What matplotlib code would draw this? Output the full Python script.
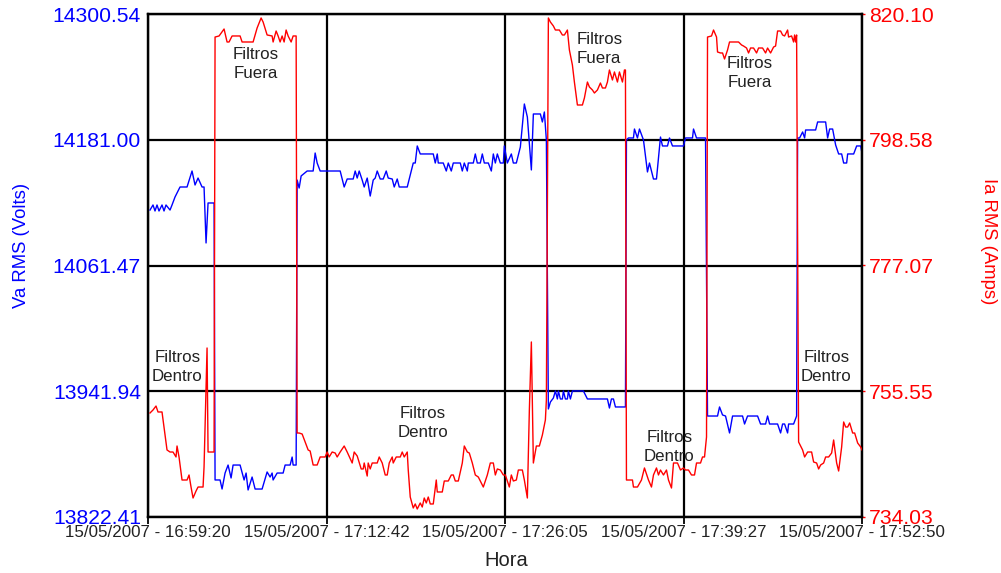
import datetime as dt
import numpy as np
import matplotlib
matplotlib.use("Agg")
import matplotlib.pyplot as plt

plt.rcParams['font.family'] = ['Liberation Sans', 'DejaVu Sans']

# ---------------- data ----------------
start_time = dt.datetime(2007, 5, 15, 16, 59, 20)
end_time = dt.datetime(2007, 5, 15, 17, 52, 50)

# Va RMS (Volts): seconds after start, value
va_t = [9, 22.5, 31.5, 40.5, 49.5, 63, 72, 81, 99, 108, 121.5, 144, 175.5, 198, 211.5, 225, 243, 252, 261, 270,
        288, 297, 301.5, 324, 333, 346.5, 360, 373.5, 382.5, 414, 432, 441, 450, 468, 481.5, 513, 535.5, 549, 558,
        562.5, 580.5, 607.5, 616.5, 639, 648, 652.5, 666, 670.5, 679.5, 688.5, 715.5, 742.5, 751.5, 760.5, 774,
        864, 882, 895.5, 922.5, 931.5, 940.5, 949.5, 963, 972, 985.5, 999, 1012.5, 1021.5, 1030.5, 1044, 1057.5,
        1071, 1080, 1098, 1107, 1120.5, 1129.5, 1165.5, 1192.5, 1201.5, 1210.5, 1224, 1282.5, 1291.5, 1300.5, 1305,
        1327.5, 1341, 1350, 1363.5, 1372.5, 1404, 1413, 1422, 1435.5, 1440, 1462.5, 1471.5, 1480.5, 1494, 1503,
        1512, 1530, 1543.5, 1552.5, 1561.5, 1570.5, 1584, 1597.5, 1602, 1615.5, 1633.5, 1642.5, 1656, 1674, 1692,
        1705.5, 1723.5, 1732.5, 1764, 1773, 1782, 1791, 1800, 1809, 1822.5, 1831.5, 1840.5, 1845, 1854, 1863,
        1867.5, 1876.5, 1885.5, 1890, 1899, 1908, 1957.5, 1975.5, 2065.5, 2074.5, 2083.5, 2092.5, 2101.5, 2146.5,
        2151, 2160, 2182.5, 2187, 2200.5, 2209.5, 2227.5, 2245.5, 2254.5, 2272.5, 2286, 2304, 2313, 2335.5, 2344.5,
        2358, 2407.5, 2416.5, 2448, 2452.5, 2466, 2506.5, 2515.5, 2560.5, 2569.5, 2583, 2596.5, 2614.5, 2628, 2673,
        2682, 2695.5, 2740.5, 2754, 2776.5, 2785.5, 2794.5, 2830.5, 2844, 2853, 2862, 2875.5, 2880, 2902.5, 2916,
        2920.5, 2929.5, 2943, 2952, 2956.5, 3001.5, 3010.5, 3046.5, 3055.5, 3064.5, 3078, 3091.5, 3105, 3118.5,
        3127.5, 3141, 3145.5, 3172.5, 3186, 3204, 3210]
va_v = [14114.2, 14119.0, 14113.3, 14119.0, 14113.3, 14119.0, 14113.3, 14119.0, 14114.2, 14119.0, 14126.6, 14136.1,
        14136.1, 14151.3, 14138.0, 14144.6, 14136.1, 14136.1, 14082.9, 14120.9, 14120.9, 14120.9, 13857.6, 13857.6,
        13849.0, 13864.2, 13871.8, 13859.5, 13871.8, 13871.8, 13857.6, 13864.2, 13848.1, 13860.4, 13849.0, 13849.0,
        13865.2, 13860.4, 13864.2, 13857.6, 13864.2, 13864.2, 13871.8, 13871.8, 13879.4, 13871.8, 13871.8, 14142.7,
        14135.1, 14146.6, 14151.3, 14151.3, 14168.4, 14158.9, 14151.3, 14151.3, 14136.1, 14143.7, 14143.7, 14151.3,
        14144.6, 14151.3, 14142.7, 14136.1, 14144.6, 14127.5, 14142.7, 14144.6, 14151.3, 14143.7, 14143.7, 14151.3,
        14144.6, 14143.7, 14136.1, 14143.7, 14136.1, 14136.1, 14158.9, 14158.9, 14175.1, 14167.5, 14167.5, 14158.9,
        14167.5, 14158.9, 14158.9, 14151.3, 14158.9, 14151.3, 14158.9, 14158.9, 14151.3, 14158.9, 14151.3, 14158.9,
        14158.9, 14167.5, 14158.9, 14158.9, 14167.5, 14158.9, 14158.9, 14151.3, 14167.5, 14158.9, 14167.5, 14158.9,
        14158.9, 14175.1, 14158.9, 14167.5, 14158.9, 14158.9, 14174.1, 14215.0, 14202.6, 14152.3, 14205.5, 14205.5,
        14197.9, 14207.4, 14180.8, 13925.1, 13931.7, 13935.5, 13942.2, 13934.6, 13942.2, 13934.6, 13934.6, 13942.2,
        13934.6, 13934.6, 13942.2, 13934.6, 13942.2, 13942.2, 13934.6, 13934.6, 13926.0, 13934.6, 13934.6, 13927.0,
        13927.0, 14180.8, 14182.7, 14182.7, 14191.2, 14182.7, 14191.2, 14180.8, 14150.4, 14158.9, 14143.7, 14143.7,
        14183.6, 14175.1, 14175.1, 14182.7, 14175.1, 14175.1, 14182.7, 14182.7, 14191.2, 14182.7, 14182.7, 13918.4,
        13918.4, 13927.0, 13919.4, 13918.4, 13902.3, 13918.4, 13918.4, 13910.8, 13918.4, 13918.4, 13910.8, 13910.8,
        13918.4, 13910.8, 13910.8, 13902.3, 13910.8, 13910.8, 13902.3, 13910.8, 13910.8, 13918.4, 14182.7, 14182.7,
        14188.4, 14182.7, 14190.3, 14190.3, 14197.9, 14197.9, 14182.7, 14191.2, 14191.2, 14176.0, 14167.5, 14167.5,
        14158.9, 14158.9, 14167.5, 14167.5, 14175.1, 14175.1, 14168.4]

# Ia RMS (Amps): seconds after start, value
ia_t = [9, 22.5, 36, 45, 63, 72, 85.5, 99, 112.5, 126, 130.5, 139.5, 153, 175.5, 184.5, 193.5, 202.5, 216, 225, 247.5,
        252, 265.5, 270, 288, 297, 301.5, 319.5, 342, 355.5, 364.5, 378, 414, 423, 472.5, 490.5, 508.5, 517.5, 535.5,
        558, 562.5, 576, 585, 594, 603, 612, 621, 630, 643.5, 652.5, 666, 670.5, 679.5, 693, 706.5, 720, 729, 742.5,
        760.5, 774, 796.5, 805.5, 814.5, 828, 841.5, 850.5, 864, 882, 895.5, 918, 927, 940.5, 958.5, 967.5, 972,
        985.5, 990, 999, 1008, 1030.5, 1039.5, 1053, 1066.5, 1075.5, 1084.5, 1098, 1102.5, 1116, 1134, 1143, 1152,
        1165.5, 1170, 1179, 1192.5, 1201.5, 1210.5, 1224, 1233, 1242, 1251, 1260, 1269, 1282.5, 1296, 1300.5, 1323,
        1332, 1350, 1363.5, 1372.5, 1381.5, 1395, 1413, 1422, 1435.5, 1444.5, 1458, 1471.5, 1485, 1494, 1507.5,
        1525.5, 1539, 1552.5, 1561.5, 1570.5, 1584, 1597.5, 1606.5, 1615.5, 1624.5, 1633.5, 1642.5, 1656, 1665,
        1683, 1692, 1705.5, 1714.5, 1723.5, 1732.5, 1746, 1759.5, 1773, 1786.5, 1791, 1800, 1809, 1822.5, 1831.5,
        1849.5, 1863, 1872, 1885.5, 1894.5, 1908, 1917, 1930.5, 1953, 1962, 1975.5, 1984.5, 1998, 2007, 2020.5,
        2034, 2043, 2056.5, 2065.5, 2074.5, 2088, 2097, 2110.5, 2119.5, 2133, 2142, 2146.5, 2151, 2164.5, 2178,
        2182.5, 2200.5, 2218.5, 2232, 2250, 2263.5, 2272.5, 2286, 2295, 2304, 2317.5, 2331, 2340, 2353.5, 2362.5,
        2380.5, 2394, 2407.5, 2416.5, 2430, 2443.5, 2457, 2466, 2484, 2493, 2502, 2511, 2515.5, 2533.5, 2542.5,
        2556, 2560.5, 2574, 2583, 2592, 2605.5, 2614.5, 2655, 2668.5, 2677.5, 2691, 2700, 2709, 2722.5, 2736, 2745,
        2763, 2776.5, 2785.5, 2799, 2812.5, 2821.5, 2830.5, 2844, 2853, 2862, 2875.5, 2880, 2893.5, 2902.5, 2907,
        2911.5, 2916, 2925, 2943, 2952, 2965.5, 2983.5, 2992.5, 3006, 3015, 3024, 3037.5, 3046.5, 3060, 3073.5,
        3082.5, 3096, 3105, 3118.5, 3127.5, 3136.5, 3145.5, 3154.5, 3168, 3177, 3190.5, 3204, 3210]
ia_v = [751.83, 752.34, 753.02, 752.00, 752.00, 749.43, 745.50, 745.15, 745.15, 744.30, 746.18, 744.30, 740.36,
        740.36, 741.22, 739.16, 737.28, 738.48, 739.16, 739.16, 742.59, 762.95, 745.15, 745.15, 745.15, 816.16,
        816.34, 817.53, 815.31, 815.31, 816.34, 816.34, 815.31, 815.31, 817.70, 819.42, 818.73, 816.51, 816.34,
        815.31, 817.19, 816.34, 815.31, 816.34, 815.31, 817.36, 816.34, 815.31, 816.34, 816.34, 748.40, 748.40,
        748.23, 746.86, 745.50, 745.32, 742.93, 742.93, 744.30, 744.30, 745.15, 744.30, 745.15, 744.98, 744.30,
        745.15, 746.18, 745.15, 743.27, 745.15, 744.47, 742.25, 742.25, 743.27, 741.04, 743.27, 742.25, 743.27,
        743.27, 744.30, 743.27, 741.22, 741.22, 743.27, 744.30, 743.27, 744.30, 744.30, 745.15, 744.30, 745.15,
        742.07, 737.45, 735.57, 736.26, 735.40, 736.43, 735.74, 737.28, 736.43, 737.45, 736.26, 736.26, 740.36,
        738.31, 738.31, 740.19, 740.19, 741.22, 741.22, 740.19, 740.19, 743.27, 746.18, 745.15, 744.98, 743.27,
        741.22, 740.87, 740.19, 739.16, 741.22, 743.27, 743.27, 741.22, 742.25, 742.07, 741.22, 741.22, 740.19,
        739.16, 741.22, 740.19, 740.36, 742.07, 742.07, 740.36, 737.28, 752.34, 763.98, 743.27, 746.18, 746.18,
        748.06, 750.63, 754.05, 819.42, 818.73, 818.05, 817.36, 817.36, 816.51, 816.51, 817.36, 813.94, 811.37,
        808.46, 804.53, 804.53, 805.73, 808.46, 807.61, 807.10, 806.58, 807.10, 808.29, 807.44, 807.44, 808.46,
        810.52, 808.81, 810.18, 808.46, 810.18, 808.46, 810.52, 810.52, 740.36, 740.36, 740.36, 739.16, 739.16,
        740.36, 742.42, 740.36, 739.16, 741.22, 742.42, 741.22, 742.07, 741.22, 742.07, 740.36, 738.99, 743.27,
        743.27, 742.07, 742.42, 742.07, 742.07, 741.22, 741.22, 743.27, 743.27, 744.30, 744.30, 747.72, 816.16,
        816.34, 817.36, 816.16, 813.60, 813.43, 813.43, 812.40, 813.94, 815.31, 815.31, 814.80, 814.62, 814.28,
        813.43, 814.28, 814.28, 813.43, 814.28, 814.28, 813.43, 814.28, 813.43, 814.45, 814.62, 817.19, 817.19,
        816.51, 816.34, 817.36, 816.16, 816.34, 815.31, 816.51, 815.31, 816.51, 746.86, 745.50, 744.30, 745.15,
        745.15, 743.44, 743.27, 742.25, 742.93, 743.27, 744.30, 744.30, 744.98, 747.21, 743.27, 741.90, 746.01,
        750.29, 749.43, 749.43, 750.12, 748.40, 748.40, 746.69, 746.01, 745.50]

va_ticks = [13822.41, 13941.94, 14061.47, 14181.00, 14300.54]
ia_ticks = [734.03, 755.55, 777.07, 798.58, 820.10]
x_tick_labels = ["15/05/2007 - 16:59:20", "15/05/2007 - 17:12:42", "15/05/2007 - 17:26:05",
                 "15/05/2007 - 17:39:27", "15/05/2007 - 17:52:50"]

annotations = [
    ("Filtros\nFuera", 0.151, 0.901),
    ("Filtros\nDentro", 0.041, 0.298),
    ("Filtros\nDentro", 0.385, 0.187),
    ("Filtros\nFuera", 0.632, 0.930),
    ("Filtros\nDentro", 0.730, 0.139),
    ("Filtros\nFuera", 0.843, 0.883),
    ("Filtros\nDentro", 0.950, 0.298),
]

# ---------------- plot ----------------
W, H = 1001, 573
fig = plt.figure(figsize=(W / 100, H / 100), dpi=100)
ax = fig.add_axes([148 / W, 1 - 517 / H, 714 / W, 503 / H])
ax2 = ax.twinx()

total = (end_time - start_time).total_seconds()

ax.plot(va_t, va_v, color='#0000ff', lw=1.0, zorder=3)
ax2.plot(ia_t, ia_v, color='#ff0000', lw=1.0, zorder=3)

ax.set_xlim(0, total)
ax.set_ylim(va_ticks[0], va_ticks[-1])
ax2.set_ylim(ia_ticks[0], ia_ticks[-1])

x_ticks = np.linspace(0, total, len(x_tick_labels))
ax.set_xticks(x_ticks)
ax.set_xticklabels(x_tick_labels, fontsize=12.2, color='#222222')
ax.set_yticks(va_ticks)
ax.set_yticklabels([f"{v:.2f}" for v in va_ticks], fontsize=15.2, color='#0000ff')
ax2.set_yticks(ia_ticks)
ax2.set_yticklabels([f"{v:.2f}" for v in ia_ticks], fontsize=15.2, color='#ff0000')

ax.tick_params(axis='x', direction='out', length=5, width=1.3, color='black', pad=1)
ax.tick_params(axis='y', length=0, pad=5)
ax2.tick_params(axis='y', length=2, width=1, color='#ff0000', pad=3)

ax.grid(True, color='black', linewidth=1.6)
for a in (ax, ax2):
    for s in a.spines.values():
        s.set_linewidth(1.6)
        s.set_color('black')

for txt, xf, yf in annotations:
    ax.text(xf, yf, txt, transform=ax.transAxes, ha='center', va='center',
            fontsize=12.2, color='#222222', linespacing=1.3, zorder=5)

fig.text(22 / W, 1 - 245 / H, "Va RMS (Volts)", rotation=90, ha='center', va='center',
         fontsize=13.3, color='#0000ff')
fig.text(988 / W, 1 - 241 / H, "Ia RMS (Amps)", rotation=-90, ha='center', va='center',
         fontsize=13.3, color='#ff0000')
fig.text(506 / W, 1 - 561 / H, "Hora", ha='center', va='center', fontsize=14.5, color='#222222')

fig.savefig("out.png", dpi=100)
